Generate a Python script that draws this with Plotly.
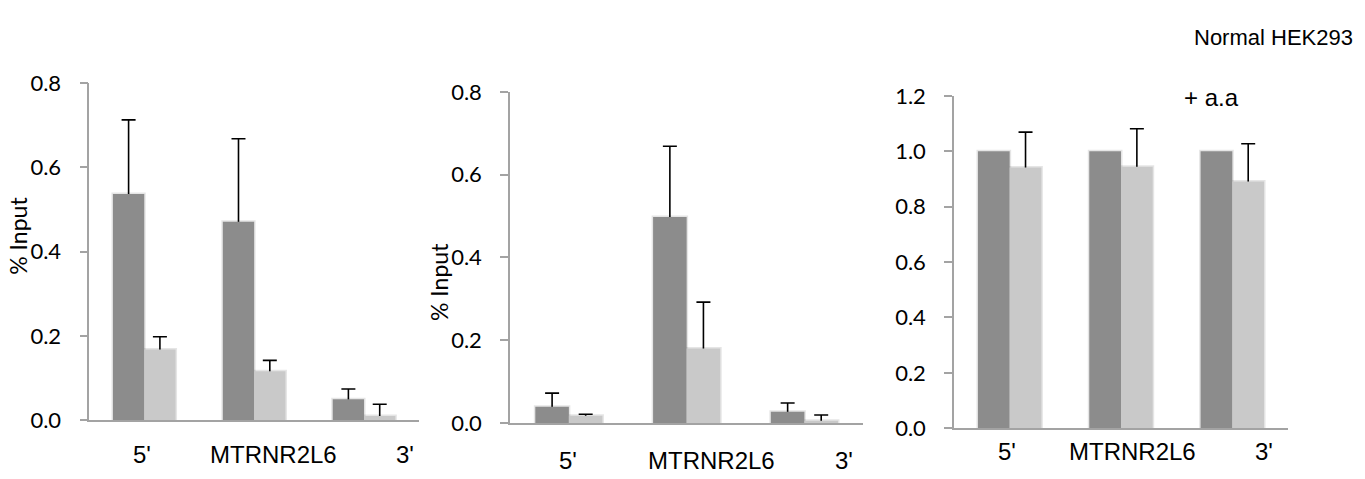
import plotly.graph_objects as go

# ChIP-qPCR enrichment across the MTRNR2L6 locus (5' flank, gene body, 3' flank)
regions = ["5'", "MTRNR2L6", "3'"]

# left panel
p1_dark = [0.537, 0.471, 0.050]
p1_dark_err = [0.176, 0.197, 0.024]
p1_light = [0.168, 0.116, 0.010]
p1_light_err = [0.030, 0.026, 0.028]

# middle panel
p2_dark = [0.039, 0.498, 0.027]
p2_dark_err = [0.033, 0.171, 0.021]
p2_light = [0.017, 0.180, 0.005]
p2_light_err = [0.004, 0.112, 0.014]

# right panel (+ a.a), normalised to the dark series
p3_dark = [1.0, 1.0, 1.0]
p3_light = [0.941, 0.944, 0.891]
p3_light_err = [0.128, 0.137, 0.136]

y_ticks_12 = [0.0, 0.2, 0.4, 0.6, 0.8]
y_ticks_3 = [0.0, 0.2, 0.4, 0.6, 0.8, 1.0, 1.2]

DARK = "#8c8c8c"
LIGHT = "#c9c9c9"
AXIS = "#a3a3a3"
SHADOW = "rgba(0,0,0,0.10)"
W, H = 1365, 479

fig = go.Figure()


def add_under(values, errors, group, xa, ya):
    """Soft shadow outline plus the error whisker; drawn beneath the bars so
    only the whisker part above each bar shows."""
    err = dict(visible=False)
    if errors is not None:
        err = dict(type="data", symmetric=False, array=errors,
                   arrayminus=values, color="black", thickness=1.6, width=7)
    fig.add_trace(go.Bar(
        x=regions, y=values, offsetgroup=group,
        marker=dict(color="rgba(0,0,0,0)", line=dict(width=3, color=SHADOW)),
        error_y=err, xaxis=xa, yaxis=ya, showlegend=False,
        hoverinfo="skip"))


def add_bars(values, color, group, xa, ya):
    fig.add_trace(go.Bar(
        x=regions, y=values, offsetgroup=group,
        marker=dict(color=color, line=dict(width=0)),
        xaxis=xa, yaxis=ya, showlegend=False))


panels = [
    ("x", "y", p1_dark, p1_dark_err, p1_light, p1_light_err),
    ("x2", "y2", p2_dark, p2_dark_err, p2_light, p2_light_err),
    ("x3", "y3", p3_dark, None, p3_light, p3_light_err),
]
for xa, ya, dv, de, lv, le in panels:
    add_under(dv, de, "a", xa, ya)
    add_under(lv, le, "b", xa, ya)
    add_bars(dv, DARK, "a", xa, ya)
    add_bars(lv, LIGHT, "b", xa, ya)

tick_font = dict(family="Lato", size=22, color="black")


def xaxis(domain, anchor):
    return dict(domain=domain, anchor=anchor, type="category",
                categoryorder="array", categoryarray=regions,
                showline=True, linecolor=AXIS, linewidth=1.5,
                showticklabels=False, ticks="", showgrid=False,
                zeroline=False)


def yaxis(domain, anchor, rng, ticks):
    return dict(domain=domain, anchor=anchor, range=rng,
                tickvals=ticks, ticktext=[f"{t:.1f}" for t in ticks],
                showline=True, linecolor=AXIS, linewidth=1.5,
                ticks="outside", ticklen=8, tickwidth=1.5, tickcolor=AXIS,
                ticklabelstandoff=14, tickfont=tick_font,
                showgrid=False, zeroline=False)


fig.update_layout(
    width=W, height=H,
    margin=dict(l=0, r=0, t=0, b=0),
    paper_bgcolor="white", plot_bgcolor="white",
    barmode="group", bargap=0.43, bargroupgap=0,
    xaxis=xaxis([89.3 / W, 419 / W], "y"),
    yaxis=yaxis([48.5 / H, 405.7 / H], "x", [0, 0.8], y_ticks_12),
    xaxis2=xaxis([510 / W, 863.3 / W], "y2"),
    yaxis2=yaxis([45.7 / H, 396.3 / H], "x2", [0, 0.8], y_ticks_12),
    xaxis3=xaxis([954 / W, 1288 / W], "y3"),
    yaxis3=yaxis([40 / H, 392.3 / H], "x3", [0, 1.2], y_ticks_3),
)

label_font = dict(family="Liberation Sans", size=24, color="black")

# region labels under each panel
label_pos = {
    "x": ([-0.02, 1.18, 2.37], 0.026),
    "x2": ([-0.01, 1.21, 2.34], 0.012),
    "x3": ([-0.02, 1.10, 2.28], 0.031),
}
for xref, (xs, yy) in label_pos.items():
    for name, xv in zip(regions, xs):
        fig.add_annotation(x=xv, y=yy, xref=xref, yref="paper", text=name,
                           showarrow=False, font=label_font,
                           xanchor="center", yanchor="middle")

# y-axis titles
title_font = dict(family="Lato", size=23, color="black")
fig.add_annotation(x=18 / W, y=1 - 235 / H, xref="paper", yref="paper",
                   text="% Input", textangle=-90, showarrow=False,
                   font=title_font, xanchor="center", yanchor="middle")
fig.add_annotation(x=439 / W, y=1 - 284 / H, xref="paper", yref="paper",
                   text="% Input", textangle=-90, showarrow=False,
                   font=title_font, xanchor="center", yanchor="middle")

fig.add_annotation(x=1211.7 / W, y=1 - 88 / H, xref="paper", yref="paper",
                   text="+ a.a", showarrow=False, font=label_font,
                   xanchor="center", yanchor="middle")
fig.add_annotation(x=1355 / W, y=1 - 25 / H, xref="paper", yref="paper",
                   text="Normal HEK293", showarrow=False,
                   font=dict(family="Liberation Sans", size=22, color="black"),
                   xanchor="right", yanchor="middle")

fig.write_html("out.html")
